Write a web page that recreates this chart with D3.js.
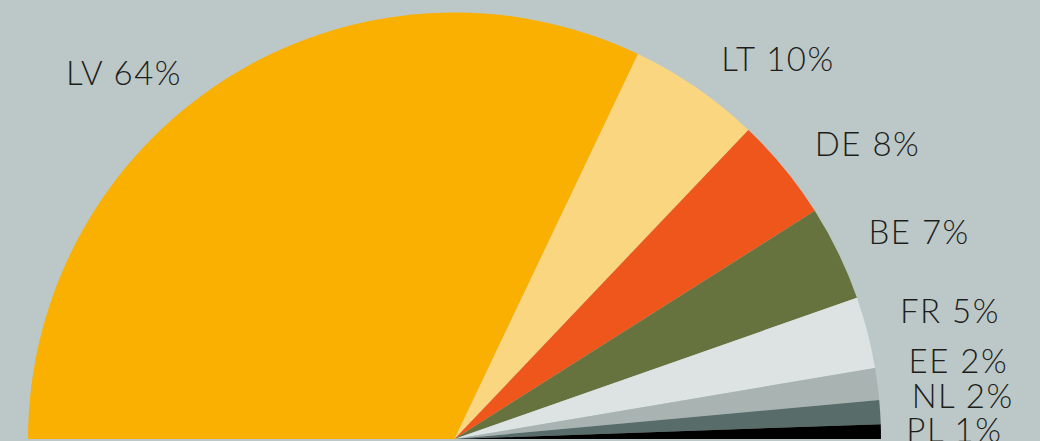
<!DOCTYPE html>
<html>
<head>
<meta charset="utf-8">
<script src="https://cdn.jsdelivr.net/npm/d3@7"></script>
<style>
  html, body { margin: 0; padding: 0; background: #BCC8C7; }
  svg { display: block; }
  .lbl { font-family: Lato, "Open Sans", sans-serif; font-weight: 300; fill: #1d1d1b; letter-spacing: 1.5px; }
</style>
</head>
<body>
<svg id="chart" width="1040" height="441"></svg>
<script>
// Share by country (%)
const countries = ["LV", "LT", "DE", "BE", "FR", "EE", "NL", "PL"];
const shares    = [63.9, 10.0, 7.8, 7.2, 5.4, 2.4, 1.8, 1.1];
const colors    = ["#F9B000", "#FAD681", "#EF561B", "#67733E", "#DCE3E2", "#A9B4B2", "#586C6A", "#000000"];

// Label placement: polar offset (degrees from 12 o'clock, clockwise; radius in px)
const labelPolar = [
  [-42.0, 494], [40.3, 500], [54.4, 508], [65.9, 509],
  [75.4, 512], [81.1, 510], [85.1, 510], [88.9, 500]
];

const W = 1040, H = 441;
const cx = 454.5, cy = 439, R = 426.5;

const svg = d3.select("#chart");
svg.append("rect").attr("width", W).attr("height", H).attr("fill", "#BCC8C7");

const data = countries.map((c, i) => ({ name: c, value: shares[i], color: colors[i] }));

const pie = d3.pie()
  .sort(null)
  .value(d => d.value)
  .startAngle(-Math.PI / 2)
  .endAngle(Math.PI / 2);

const arc = d3.arc().innerRadius(0).outerRadius(R);

const g = svg.append("g").attr("transform", `translate(${cx},${cy})`);

const arcs = pie(data);

g.selectAll("path.slice")
  .data(arcs)
  .join("path")
  .attr("class", "slice")
  .attr("d", arc)
  .attr("fill", d => d.data.color);

const fmt = v => d3.format(".0f")(v) + "%";

g.selectAll("text.lbl")
  .data(arcs)
  .join("text")
  .attr("class", "lbl")
  .attr("font-size", 33)
  .attr("text-anchor", "middle")
  .attr("dominant-baseline", "central")
  .attr("x", (d, i) => labelPolar[i][1] * Math.sin(labelPolar[i][0] * Math.PI / 180))
  .attr("y", (d, i) => -labelPolar[i][1] * Math.cos(labelPolar[i][0] * Math.PI / 180))
  .text(d => `${d.data.name} ${fmt(d.data.value)}`);
</script>
</body>
</html>
